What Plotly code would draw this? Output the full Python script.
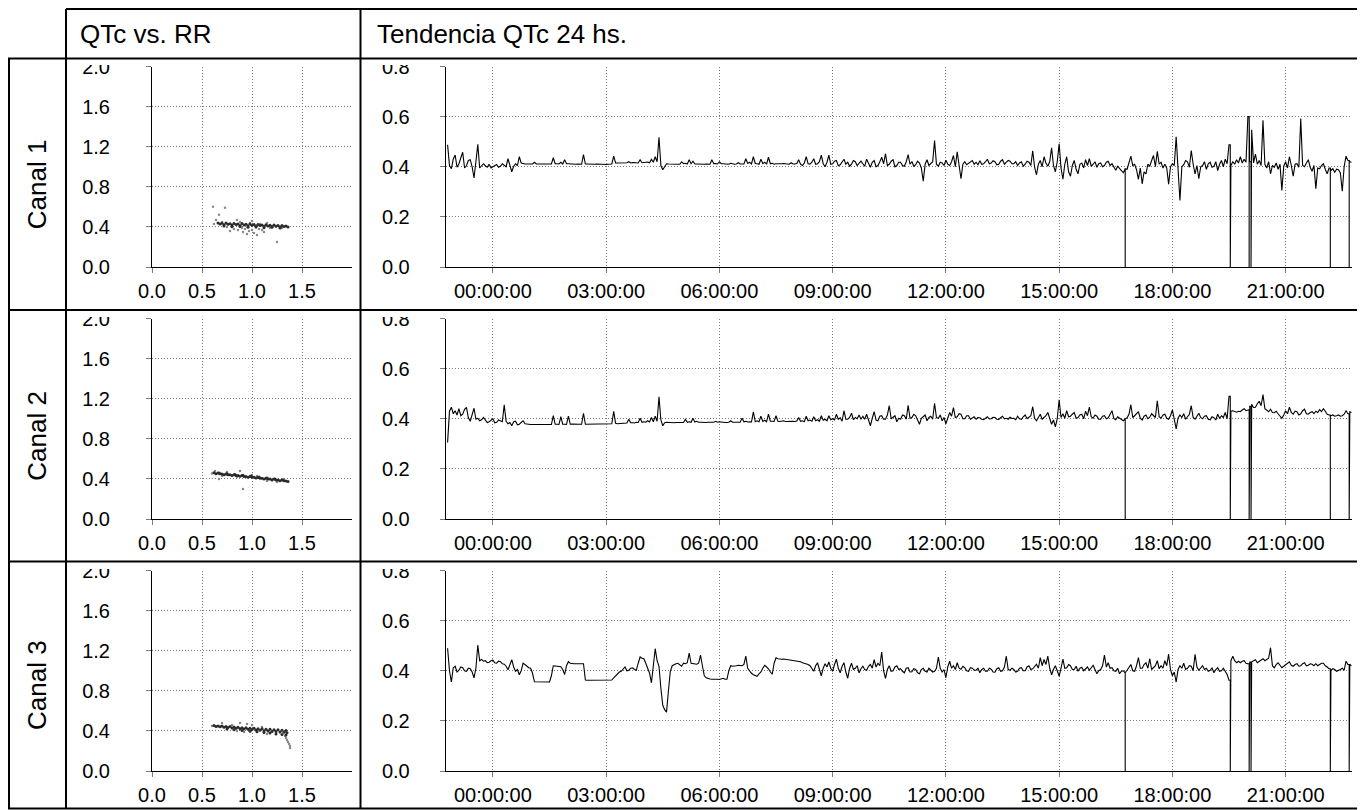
import pandas as pd
import plotly.graph_objects as go

W, H = 1365, 810
FONT = "Liberation Sans, Arial, sans-serif"
OFF = 8  # margen del body de la pagina

channels = ["Canal 1", "Canal 2", "Canal 3"]
col_titles = ["QTc vs. RR", "Tendencia QTc 24 hs."]
time_labels = ["00:00:00", "03:00:00", "06:00:00", "09:00:00",
               "12:00:00", "15:00:00", "18:00:00", "21:00:00"]
rr_ticks = [0.0, 0.5, 1.0, 1.5]
qtc_ticks_scatter = [0.0, 0.4, 0.8, 1.2, 1.6, 2.0]
qtc_ticks_trend = [0.0, 0.2, 0.4, 0.6, 0.8]

# tendencia: una muestra cada 3 minutos desde las 22:48 (valores en ms), una fila por hora
trend_start = "2024-01-01 22:48"
trend_step = "3min"
gap_times = ["2024-01-02 16:45", "2024-01-02 19:32", "2024-01-02 20:02",
             "2024-01-02 20:05", "2024-01-02 22:11", "2024-01-02 22:41"]

qtc_trend_1 = [
    488, 405, 392, 430, 447, 398, 412, 440, 458, 395, 404, 425, 428, 400, 355, 420, 490, 395, 402, 412,
    404, 398, 410, 395, 400, 405, 409, 398, 402, 412, 406, 400, 432, 405, 380, 402, 412, 405, 440, 415,
    412, 411, 411, 412, 413, 411, 418, 411, 411, 411, 410, 411, 411, 411, 412, 411, 436, 412, 412, 411,
    418, 411, 428, 412, 412, 411, 411, 410, 410, 411, 411, 410, 448, 411, 411, 410, 410, 410, 410, 411,
    410, 410, 410, 409, 409, 410, 410, 411, 442, 415, 415, 415, 416, 414, 415, 416, 420, 415, 417, 415,
    416, 415, 428, 416, 417, 416, 419, 416, 430, 418, 440, 420, 518, 405, 388, 400, 412, 411, 411, 410,
    410, 411, 411, 410, 420, 412, 414, 411, 428, 412, 422, 411, 411, 410, 412, 411, 410, 411, 411, 410,
    428, 412, 413, 411, 420, 412, 412, 411, 411, 410, 414, 411, 410, 411, 416, 411, 412, 411, 432, 413,
    418, 411, 440, 413, 412, 410, 430, 412, 418, 410, 438, 412, 414, 410, 412, 411, 411, 412, 413, 411,
    412, 410, 416, 411, 411, 413, 428, 410, 405, 415, 440, 412, 410, 418, 432, 410, 412, 420, 446, 412,
    400, 418, 446, 410, 412, 422, 425, 404, 408, 418, 430, 410, 418, 402, 410, 425, 420, 405, 414, 422,
    412, 402, 430, 410, 398, 418, 425, 400, 405, 420, 438, 412, 452, 405, 410, 422, 428, 400, 405, 418,
    418, 405, 402, 420, 448, 410, 421, 402, 408, 422, 415, 395, 342, 410, 428, 405, 412, 420, 505, 410,
    402, 418, 415, 405, 426, 410, 405, 420, 445, 400, 460, 395, 352, 410, 420, 408, 415, 422, 425, 410,
    418, 408, 424, 410, 412, 420, 430, 412, 415, 424, 420, 408, 410, 422, 428, 410, 416, 425, 422, 412,
    412, 420, 405, 415, 420, 402, 410, 422, 418, 405, 464, 398, 368, 410, 425, 400, 440, 415, 402, 420,
    476, 405, 380, 420, 492, 395, 350, 410, 440, 380, 362, 405, 425, 390, 372, 410, 415, 395, 428, 405,
    432, 402, 410, 420, 398, 412, 415, 400, 405, 418, 422, 405, 412, 398, 386, 402, 395, 385, 376, 392,
    390, 415, 442, 405, 410, 388, 350, 395, 332, 380, 372, 410, 402, 425, 445, 400, 462, 410, 418, 395,
    410, 395, 330, 400, 412, 405, 520, 390, 265, 400, 408, 425, 420, 398, 465, 410, 372, 405, 352, 400,
    405, 420, 390, 412, 418, 398, 402, 420, 385, 410, 425, 400, 430, 412, 488, 405, 420, 410, 428, 415,
    440, 415, 430, 418, 600, 420, 548, 415, 450, 410, 425, 405, 585, 410, 395, 420, 372, 405, 398, 415,
    390, 410, 305, 402, 420, 395, 440, 405, 362, 410, 412, 398, 592, 405, 400, 415, 428, 398, 382, 405,
    312, 395, 392, 405, 412, 390, 372, 395, 385, 392, 378, 390, 388, 375, 302, 400, 442, 425, 420, 418,
]
qtc_trend_2 = [
    305, 430, 446, 420, 432, 415, 440, 412, 418, 438, 445, 405, 390, 420, 442, 398, 402, 392, 396, 405,
    395, 385, 388, 396, 400, 384, 386, 395, 392, 388, 456, 390, 380, 385, 372, 388, 390, 376, 378, 385,
    392, 380, 378, 377, 377, 377, 376, 377, 377, 377, 376, 377, 377, 377, 378, 377, 412, 378, 378, 377,
    408, 378, 378, 377, 410, 378, 379, 378, 378, 377, 378, 378, 422, 378, 378, 377, 377, 378, 378, 378,
    378, 378, 377, 377, 378, 378, 378, 380, 430, 382, 380, 381, 382, 381, 381, 383, 398, 384, 384, 383,
    386, 385, 402, 386, 388, 386, 392, 387, 405, 388, 410, 390, 488, 395, 372, 384, 386, 385, 385, 385,
    384, 385, 385, 385, 386, 385, 398, 386, 388, 386, 402, 387, 390, 386, 386, 385, 384, 385, 386, 385,
    385, 386, 390, 386, 388, 386, 386, 385, 385, 386, 392, 386, 386, 387, 388, 386, 402, 388, 390, 387,
    388, 387, 428, 388, 392, 388, 410, 389, 394, 388, 418, 390, 390, 389, 412, 390, 389, 390, 392, 389,
    390, 389, 392, 390, 389, 391, 405, 390, 392, 388, 410, 392, 395, 390, 408, 392, 396, 390, 412, 394,
    398, 392, 412, 396, 400, 395, 418, 398, 404, 390, 432, 398, 398, 405, 422, 396, 405, 400, 415, 398,
    410, 398, 418, 395, 372, 402, 428, 395, 392, 410, 412, 398, 398, 415, 452, 400, 405, 412, 388, 402,
    398, 415, 412, 398, 454, 402, 405, 418, 412, 395, 378, 402, 408, 415, 392, 405, 410, 398, 462, 405,
    402, 415, 392, 405, 380, 402, 425, 410, 444, 405, 408, 420, 418, 400, 400, 412, 412, 398, 402, 408,
    398, 405, 404, 398, 396, 403, 408, 399, 400, 406, 405, 398, 397, 404, 410, 400, 402, 398, 406, 401,
    402, 396, 410, 400, 398, 408, 415, 400, 405, 412, 448, 402, 392, 405, 418, 398, 405, 412, 425, 402,
    378, 395, 368, 400, 476, 405, 420, 402, 432, 408, 410, 418, 425, 402, 405, 415, 418, 400, 430, 412,
    446, 408, 402, 415, 410, 398, 398, 410, 412, 400, 404, 418, 432, 400, 396, 408, 402, 395, 392, 400,
    404, 418, 456, 405, 412, 420, 428, 402, 395, 410, 415, 400, 406, 420, 412, 405, 472, 408, 402, 415,
    418, 402, 398, 412, 435, 395, 360, 402, 415, 405, 420, 398, 408, 418, 452, 405, 398, 412, 422, 405,
    400, 410, 412, 398, 396, 408, 404, 395, 418, 402, 412, 405, 425, 400, 490, 430, 432, 428, 426, 430,
    428, 435, 440, 432, 436, 450, 458, 445, 446, 460, 470, 452, 496, 440, 432, 428, 438, 425, 424, 430,
    420, 410, 402, 415, 432, 420, 446, 425, 418, 430, 428, 415, 420, 432, 438, 420, 418, 425, 428, 420,
    430, 425, 436, 428, 440, 430, 418, 415, 412, 415, 410, 412, 415, 410, 412, 418, 432, 420, 428, 425,
]
qtc_trend_3 = [
    490, 400, 355, 412, 418, 395, 402, 415, 412, 400, 398, 410, 408, 395, 372, 410, 502, 440, 445, 438,
    440, 432, 434, 440, 442, 432, 430, 438, 436, 428, 426, 418, 404, 425, 444, 415, 398, 405, 384, 400,
    430, 425, 418, 412, 410, 390, 356, 356, 355, 355, 355, 356, 356, 355, 355, 380, 420, 419, 418, 420,
    416, 405, 385, 420, 436, 430, 428, 428, 428, 427, 427, 428, 428, 363, 362, 362, 362, 363, 363, 362,
    363, 362, 362, 363, 363, 362, 362, 363, 372, 380, 388, 395, 398, 405, 415, 400, 402, 410, 412, 405,
    402, 430, 455, 450, 448, 430, 412, 390, 352, 420, 488, 440, 418, 330, 262, 245, 235, 320, 398, 420,
    425, 428, 430, 425, 418, 430, 428, 432, 470, 430, 428, 428, 426, 430, 462, 420, 380, 372, 368, 367,
    366, 367, 368, 366, 365, 368, 370, 366, 366, 400, 420, 418, 418, 420, 422, 420, 420, 425, 458, 410,
    398, 390, 384, 380, 378, 388, 395, 410, 422, 415, 408, 395, 386, 430, 452, 448, 446, 446, 447, 446,
    445, 444, 443, 442, 440, 440, 438, 436, 432, 430, 428, 425, 420, 410, 398, 420, 432, 405, 380, 410,
    428, 415, 435, 410, 398, 425, 446, 410, 392, 418, 432, 395, 370, 410, 430, 405, 410, 420, 392, 408,
    418, 405, 402, 418, 425, 410, 444, 415, 430, 420, 475, 400, 370, 405, 420, 398, 400, 415, 420, 405,
    408, 398, 392, 410, 412, 395, 396, 408, 405, 392, 388, 405, 410, 398, 395, 410, 402, 395, 398, 410,
    455, 410, 395, 405, 372, 415, 438, 410, 420, 405, 432, 410, 406, 418, 412, 400, 398, 412, 410, 402,
    402, 410, 392, 405, 410, 398, 398, 410, 406, 395, 394, 408, 412, 398, 400, 415, 458, 405, 402, 410,
    405, 395, 398, 410, 412, 400, 400, 415, 420, 405, 408, 418, 426, 410, 452, 420, 445, 425, 458, 410,
    384, 405, 420, 400, 378, 410, 446, 410, 412, 425, 420, 405, 405, 418, 398, 410, 414, 400, 408, 415,
    402, 415, 422, 405, 388, 400, 405, 420, 462, 415, 432, 410, 412, 400, 398, 410, 388, 398, 400, 392,
    402, 415, 425, 400, 398, 420, 452, 410, 410, 425, 432, 410, 448, 405, 412, 420, 440, 408, 420, 410,
    440, 420, 466, 405, 380, 395, 355, 405, 420, 410, 430, 405, 410, 420, 418, 400, 466, 415, 402, 412,
    420, 405, 410, 398, 402, 412, 392, 405, 412, 398, 400, 410, 396, 385, 362, 440, 458, 440, 432, 438,
    432, 438, 440, 430, 428, 435, 436, 440, 444, 432, 438, 445, 448, 440, 445, 450, 492, 420, 412, 425,
    432, 420, 412, 418, 425, 430, 436, 422, 418, 425, 428, 418, 420, 428, 432, 420, 422, 428, 426, 420,
    428, 420, 424, 430, 430, 420, 415, 408, 402, 408, 405, 398, 400, 405, 410, 402, 438, 425, 425, 420,
]

# QTc vs RR (s)
rr_core_1 = [0.66, 0.70, 0.74, 0.78, 0.82, 0.86, 0.90, 0.94, 0.98, 1.02, 1.06, 1.10, 1.14, 1.18, 1.22, 1.26, 1.30, 1.34,
             0.68, 0.72, 0.76, 0.80, 0.84, 0.88, 0.92, 0.96, 1.00, 1.04, 1.08, 1.12, 1.16, 1.20, 1.24, 1.28, 1.32, 1.36,
             0.72, 0.80, 0.88, 0.96, 1.04, 1.12, 1.20, 1.28]
qtc_core_1 = [0.440, 0.436, 0.438, 0.432, 0.435, 0.430, 0.433, 0.426, 0.429, 0.423, 0.425, 0.420, 0.422, 0.416, 0.419, 0.413, 0.415, 0.410,
              0.428, 0.422, 0.426, 0.418, 0.423, 0.415, 0.419, 0.412, 0.416, 0.409, 0.413, 0.406, 0.409, 0.403, 0.406, 0.400, 0.403, 0.399,
              0.410, 0.402, 0.404, 0.396, 0.398, 0.392, 0.396, 0.390]
rr_halo_1 = [0.61, 0.73, 0.67, 0.64, 0.62, 0.85, 1.00, 0.78, 0.86, 0.91, 0.95, 0.97, 1.02, 1.05, 1.10,
             1.12, 1.25, 0.82, 0.93, 1.07, 0.88, 1.15, 0.75, 1.00, 0.70, 0.90, 1.18, 1.30, 0.98, 1.08]
qtc_halo_1 = [0.60, 0.59, 0.52, 0.47, 0.43, 0.47, 0.46, 0.36, 0.37, 0.35, 0.33, 0.36, 0.34, 0.32, 0.37,
              0.35, 0.25, 0.38, 0.38, 0.38, 0.45, 0.44, 0.40, 0.37, 0.45, 0.39, 0.39, 0.39, 0.44, 0.43]

rr_core_2 = [0.62, 0.66, 0.70, 0.74, 0.78, 0.82, 0.86, 0.90, 0.94, 0.98, 1.02, 1.06, 1.10, 1.14, 1.18, 1.22, 1.26, 1.30, 1.34,
             0.64, 0.68, 0.72, 0.76, 0.80, 0.84, 0.88, 0.92, 0.96, 1.00, 1.04, 1.08, 1.12, 1.16, 1.20, 1.24, 1.28, 1.32, 1.36,
             0.67, 0.75, 0.83, 0.91, 0.99, 1.07, 1.15, 1.23, 1.31]
qtc_core_2 = [0.462, 0.458, 0.450, 0.449, 0.441, 0.442, 0.433, 0.433, 0.424, 0.424, 0.416, 0.415, 0.407, 0.406, 0.398, 0.398, 0.389, 0.389, 0.380,
              0.452, 0.451, 0.442, 0.442, 0.434, 0.434, 0.426, 0.425, 0.417, 0.416, 0.408, 0.407, 0.399, 0.399, 0.390, 0.390, 0.381, 0.381, 0.375,
              0.460, 0.452, 0.444, 0.436, 0.428, 0.420, 0.409, 0.400, 0.392]
rr_halo_2 = [0.63, 0.88, 0.91, 0.67, 0.60, 0.75, 1.00, 1.15, 0.85, 0.70, 1.25, 1.05]
qtc_halo_2 = [0.48, 0.48, 0.30, 0.40, 0.455, 0.47, 0.44, 0.38, 0.42, 0.43, 0.37, 0.43]

rr_core_3 = [0.62, 0.66, 0.70, 0.74, 0.78, 0.82, 0.86, 0.90, 0.94, 0.98, 1.02, 1.06, 1.10, 1.14, 1.18, 1.22, 1.26, 1.30, 1.34,
             0.64, 0.68, 0.72, 0.76, 0.80, 0.84, 0.88, 0.92, 0.96, 1.00, 1.04, 1.08, 1.12, 1.16, 1.20, 1.24, 1.28, 1.32, 1.35,
             0.75, 0.82, 0.90, 0.98, 1.05, 1.12, 1.18, 1.24, 1.30, 1.34]
qtc_core_3 = [0.455, 0.450, 0.448, 0.444, 0.443, 0.438, 0.437, 0.432, 0.432, 0.427, 0.426, 0.422, 0.421, 0.416, 0.416, 0.411, 0.411, 0.406, 0.405,
              0.445, 0.441, 0.436, 0.434, 0.428, 0.426, 0.422, 0.419, 0.416, 0.413, 0.408, 0.406, 0.402, 0.399, 0.395, 0.393, 0.388, 0.386, 0.382,
              0.420, 0.412, 0.405, 0.396, 0.392, 0.384, 0.380, 0.370, 0.365, 0.360]
rr_halo_3 = [0.70, 0.88, 0.95, 0.80, 1.00, 1.10, 0.60, 0.85, 1.15, 0.92, 1.33, 1.34, 1.35, 1.36, 1.37, 1.38, 1.38]
qtc_halo_3 = [0.48, 0.48, 0.47, 0.46, 0.46, 0.44, 0.45, 0.40, 0.37, 0.39, 0.35, 0.33, 0.31, 0.29, 0.27, 0.25, 0.23]

trends = [qtc_trend_1, qtc_trend_2, qtc_trend_3]
scatters = [(rr_core_1, qtc_core_1, rr_halo_1, qtc_halo_1),
            (rr_core_2, qtc_core_2, rr_halo_2, qtc_halo_2),
            (rr_core_3, qtc_core_3, rr_halo_3, qtc_halo_3)]

times = pd.date_range(trend_start, periods=len(qtc_trend_1), freq=trend_step)
gaps = pd.to_datetime(gap_times)


def with_gaps(vals):
    # inserta las caidas a cero (sin senal) como trazos verticales
    xs, ys = [], []
    gi = 0
    prev = vals[0] / 1000
    for t, v in zip(times, vals):
        while gi < len(gaps) and gaps[gi] < t:
            xs += [gaps[gi]] * 3
            ys += [prev, 0, prev]
            gi += 1
        xs.append(t)
        ys.append(v / 1000)
        prev = v / 1000
    return xs, ys


def px_x(p):
    return (p - OFF) / W


def px_y(p):
    return 1 - (p - OFF) / H


plot_tops = [66.5, 318.5, 570.5]
plot_h = 200.5
row_lines = [58.5, 310, 561.5, 808.5]
sc_x = [152, 352]
tr_x = [445.7, 1351.7]

fig = go.Figure()

axis_common = dict(
    showgrid=True, gridcolor="#7a7a7a", gridwidth=1, griddash="1px,2px",
    showline=True, linecolor="black", linewidth=1, zeroline=False,
    ticks="outside", ticklen=5, tickcolor="#7a7a7a", tickwidth=1, automargin=False,
    tickfont=dict(family=FONT, size=20, color="black"), fixedrange=True,
)

for r in range(3):
    ia, ib = 2 * r + 1, 2 * r + 2
    xa = "x" if ia == 1 else f"x{ia}"
    ya = "y" if ia == 1 else f"y{ia}"
    xb, yb = f"x{ib}", f"y{ib}"
    top = plot_tops[r]
    ydom = [px_y(top + plot_h), px_y(top)]

    rc, qc, rh, qh = scatters[r]
    fig.add_trace(go.Scatter(x=rh, y=qh, mode="markers", xaxis=xa, yaxis=ya,
                             marker=dict(size=2.5, color="#8a8a8a"), showlegend=False))
    fig.add_trace(go.Scatter(x=rc, y=qc, mode="markers", xaxis=xa, yaxis=ya,
                             marker=dict(size=3, color="#2a2a2a"), showlegend=False))

    tx, ty = with_gaps(trends[r])
    fig.add_trace(go.Scatter(x=tx, y=ty, mode="lines", xaxis=xb, yaxis=yb,
                             line=dict(color="black", width=1.1), showlegend=False))

    fig.update_layout({
        ("xaxis" if ia == 1 else f"xaxis{ia}"): dict(
            axis_common, domain=[px_x(sc_x[0]), px_x(sc_x[1])], anchor=ya,
            range=[0, 2.0], tickvals=rr_ticks, ticktext=[f"{v:.1f}" for v in rr_ticks],
            ticklabelstandoff=1),
        ("yaxis" if ia == 1 else f"yaxis{ia}"): dict(
            axis_common, domain=ydom, anchor=xa, range=[0, 2.0],
            tickvals=qtc_ticks_scatter, ticktext=[f"{v:.1f}" for v in qtc_ticks_scatter],
            ticklabelstandoff=32),
        f"xaxis{ib}": dict(
            axis_common, type="date", domain=[px_x(tr_x[0]), px_x(tr_x[1])], anchor=yb,
            range=["2024-01-01 22:45", "2024-01-02 22:45"],
            tickvals=["2024-01-02 " + s for s in time_labels], ticktext=time_labels,
            ticklabelstandoff=1),
        f"yaxis{ib}": dict(
            axis_common, domain=ydom, anchor=xb, range=[0, 0.8],
            tickvals=qtc_ticks_trend, ticktext=[f"{v:.1f}" for v in qtc_ticks_trend],
            ticklabelstandoff=26),
    })

shapes = []
# la etiqueta superior queda recortada por el borde de la fila
for r in range(3):
    y0 = row_lines[r]
    y1 = plot_tops[r] - 1.5
    for xl, xr in [(68, 150), (362.5, 443)]:
        shapes.append(dict(type="rect", xref="paper", yref="paper",
                           x0=px_x(xl), x1=px_x(xr), y0=px_y(y1), y1=px_y(y0),
                           fillcolor="white", line=dict(width=0), layer="above"))


def border(x0, y0, x1, y1):
    shapes.append(dict(type="line", xref="paper", yref="paper",
                       x0=px_x(x0), y0=px_y(y0), x1=px_x(x1), y1=px_y(y1),
                       line=dict(color="black", width=2), layer="above"))


border(66, 9, 1359.5, 9)
for yl in row_lines:
    border(8, yl, 1359.5, yl)
border(9, 58.5, 9, 808.5)
for xl in [66, 360.5, 1359.5]:
    border(xl, 9, xl, 808.5)

annotations = []
for txt, xl in zip(col_titles, [78, 375]):
    annotations.append(dict(text=txt, x=px_x(xl), y=px_y(34), xref="paper", yref="paper",
                            xanchor="left", yanchor="middle", showarrow=False,
                            font=dict(family=FONT, size=26, color="black")))
for r, name in enumerate(channels):
    yc = (row_lines[r] + row_lines[r + 1]) / 2
    annotations.append(dict(text=name, x=px_x(37), y=px_y(yc), xref="paper", yref="paper",
                            xanchor="center", yanchor="middle", textangle=-90, showarrow=False,
                            font=dict(family=FONT, size=26, color="black")))

fig.update_layout(
    width=W, height=H, margin=dict(l=0, r=0, t=0, b=0, pad=0, autoexpand=False),
    paper_bgcolor="white", plot_bgcolor="white", showlegend=False,
    shapes=shapes, annotations=annotations, hovermode=False,
)

fig.write_html("out.html")
